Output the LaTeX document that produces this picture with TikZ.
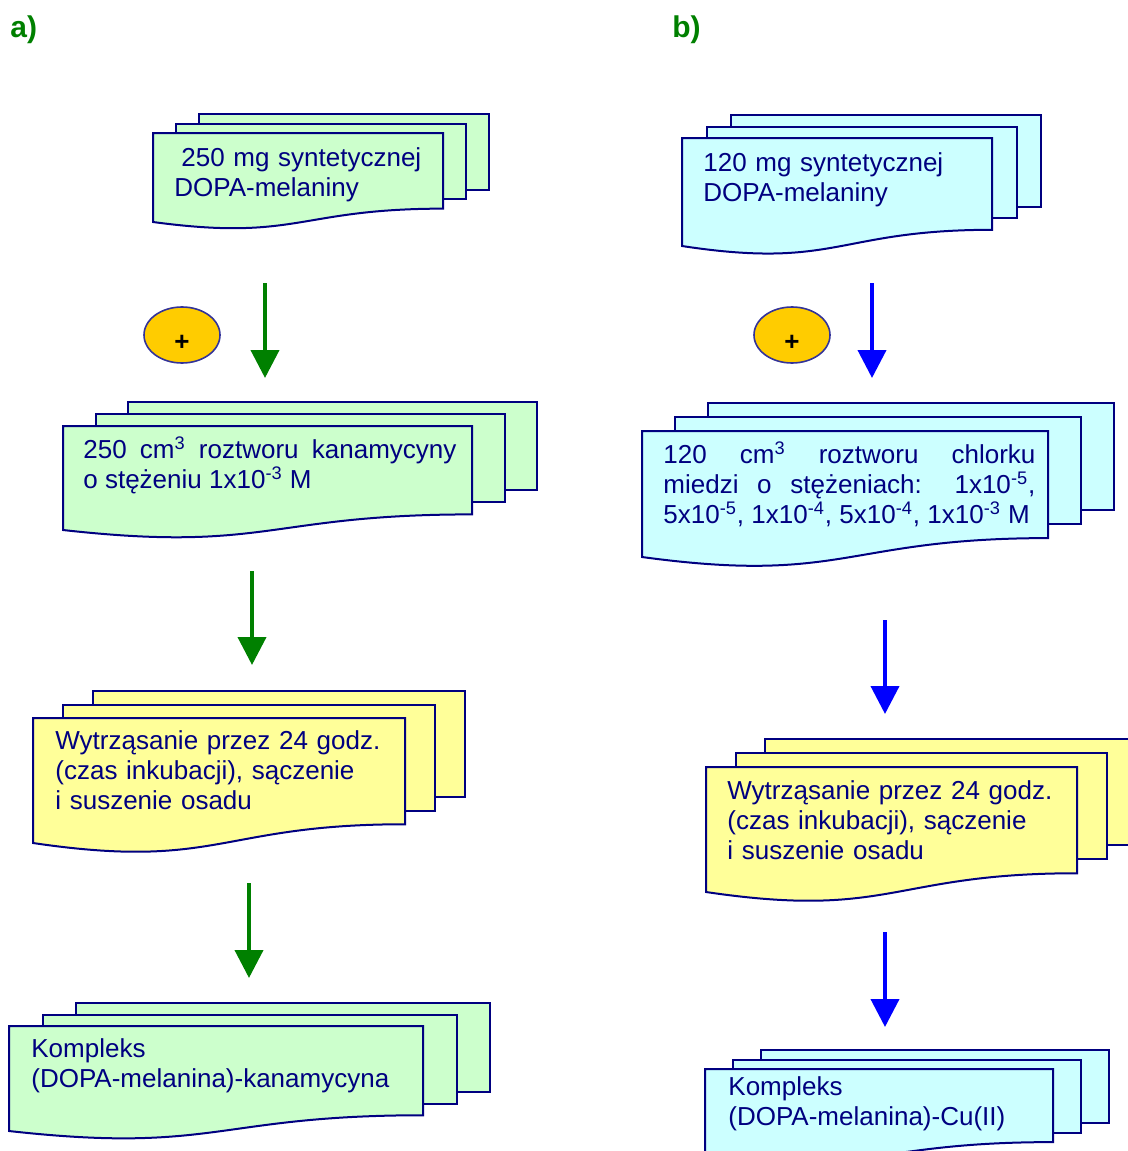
\documentclass[tikz,border=0pt]{standalone}
\usepackage{fontspec}
\setmainfont{Liberation Sans}
\usetikzlibrary{arrows.meta,shapes.geometric}
\definecolor{navy}{HTML}{000080}
\definecolor{ovalline}{HTML}{333399}
\definecolor{mintfill}{HTML}{CCFFCC}
\definecolor{cyanfill}{HTML}{CCFFFF}
\definecolor{lemonfill}{HTML}{FFFF99}
\definecolor{arrowgreen}{HTML}{008000}
\definecolor{gold}{HTML}{FFCC00}
% fill, left, top, width, height, dx, dy
\newcommand{\multidoc}[7]{%
  \draw[doc, fill=#1] ({#2+2*#6}, {#3-2*#7}) rectangle ++(#4, {0.85*#5});
  \draw[doc, fill=#1] ({#2+#6}, {#3-#7}) rectangle ++(#4, {0.85*#5});
  \draw[doc, fill=#1] (#2, #3) -- ++(#4, 0) -- ++(0, {0.85*#5})
    .. controls +({-0.5*#4}, 0) and +({0.5*#4}, {0.22*#5}) .. (#2, {#3+#5}) -- cycle;
}

\begin{document}
\begin{tikzpicture}[x=0.5pt, y=-0.5pt,
  doc/.style={draw=navy, line width=1pt},
  txt/.style={anchor=base west, inner sep=0pt, text=navy, align=left, text width=200pt, font=\fontsize{13}{15}\selectfont},
  just/.style={txt, align=justify, text width=186pt},
  oval/.style={draw=ovalline, fill=gold, ellipse, line width=0.8pt, minimum width=38pt, minimum height=28pt, inner sep=0pt},
  plus/.style={inner sep=0pt, font=\bfseries\fontsize{13}{15}\selectfont},
  tag/.style={anchor=base west, inner sep=0pt, text=arrowgreen, font=\bfseries\fontsize{15}{18}\selectfont},
  garrow/.style={draw=arrowgreen, line width=2pt, -{Triangle[width=14pt,length=14pt]}},
  barrow/.style={garrow, draw=blue}]
  \useasboundingbox (0,0) rectangle (1128,1151);

  \node[tag] (tagA) at (10,37) {a)};
  \node[tag] (tagB) at (672,37) {b)};

  \multidoc{mintfill}{153}{133}{290}{89}{23}{9.5}
  \multidoc{mintfill}{63}{426}{409}{104}{32.5}{12}
  \multidoc{lemonfill}{33}{718}{372}{125}{30}{13.5}
  \multidoc{mintfill}{9}{1026}{414}{105}{33.5}{11.5}
  \multidoc{cyanfill}{682}{138}{310}{108}{24.5}{11.5}
  \multidoc{cyanfill}{642}{431}{406}{126}{33}{14}
  \multidoc{lemonfill}{706}{767}{371}{125}{29.5}{14}
  \multidoc{cyanfill}{705}{1069}{348}{86}{28}{9.5}

  \node[txt] (srcA) at (174,166) {\hspace*{3.5pt}250 mg syntetycznej\\DOPA-melaniny};
  \node[just, text width=186.5pt] (solA) at (83,458) {250 cm\textsuperscript{3} roztworu kanamycyny\linebreak o stężeniu 1x10\textsuperscript{-3} M};
  \node[txt] (shakeA) at (55,749) {Wytrząsanie przez 24 godz.\\(czas inkubacji), sączenie\\i suszenie osadu};
  \node[txt] (prodA) at (31,1057) {Kompleks\\(DOPA-melanina)-kanamycyna};

  \node[txt] (srcB) at (703,171) {120 mg syntetycznej\\DOPA-melaniny};
  \node[just] (solB) at (663,463) {120 cm\textsuperscript{3} roztworu chlorku\linebreak miedzi o stężeniach: 1x10\textsuperscript{-5},\linebreak \mbox{5x10\textsuperscript{-5}, 1x10\textsuperscript{-4}, 5x10\textsuperscript{-4}, 1x10\textsuperscript{-3} M}};
  \node[txt] (shakeB) at (727,799) {Wytrząsanie przez 24 godz.\\(czas inkubacji), sączenie\\i suszenie osadu};
  \node[txt] (prodB) at (728,1095) {Kompleks\\(DOPA-melanina)-Cu(II)};

  \node[oval] (optA) at (182,335) {};
  \node[plus] (plusA) at ([yshift=-4pt]optA.center) {+};
  \node[oval] (optB) at (792,335) {};
  \node[plus] (plusB) at ([yshift=-4pt]optB.center) {+};

  \coordinate (a1) at (265,283); \coordinate (a2) at (265,378);
  \coordinate (a3) at (252,571); \coordinate (a4) at (252,665);
  \coordinate (a5) at (249,883); \coordinate (a6) at (249,978);
  \coordinate (b1) at (872,283); \coordinate (b2) at (872,378);
  \coordinate (b3) at (885,620); \coordinate (b4) at (885,714);
  \coordinate (b5) at (885,932); \coordinate (b6) at (885,1027);
  \draw[garrow] (a1) -- (a2);
  \draw[garrow] (a3) -- (a4);
  \draw[garrow] (a5) -- (a6);
  \draw[barrow] (b1) -- (b2);
  \draw[barrow] (b3) -- (b4);
  \draw[barrow] (b5) -- (b6);
\end{tikzpicture}
\end{document}
